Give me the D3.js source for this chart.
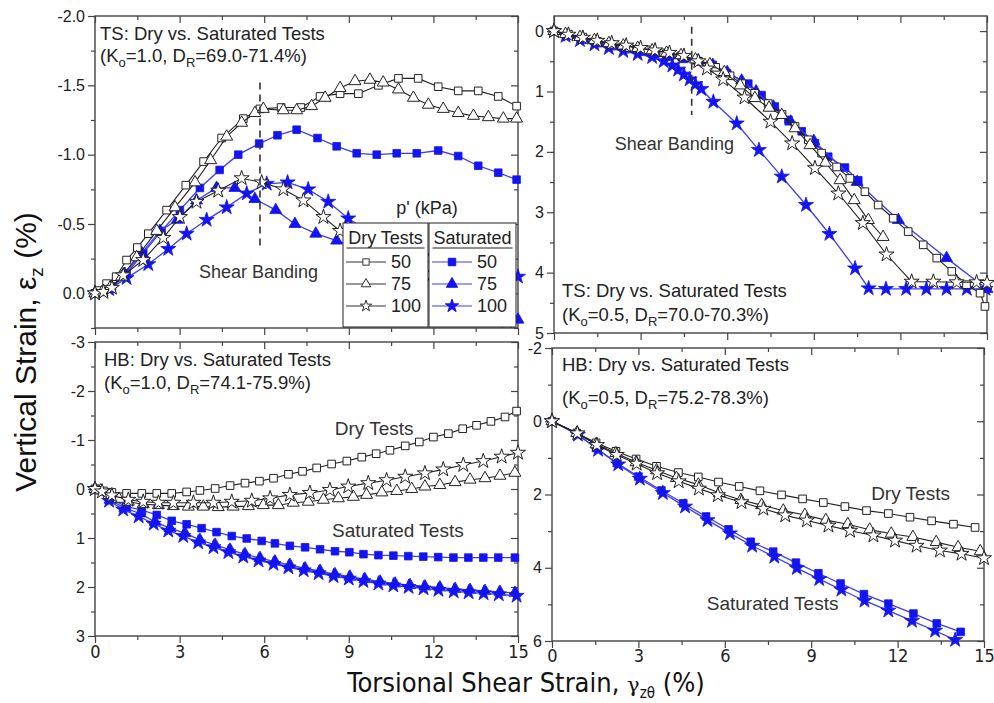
<!DOCTYPE html>
<html><head><meta charset="utf-8">
<script src="https://cdn.jsdelivr.net/npm/d3@7"></script>
<style>
body{margin:0;background:#fff}
svg{display:block;font-family:"Liberation Sans",Arial,sans-serif}
</style>
</head><body>
<svg id="c" width="994" height="703"></svg>
<script>
// ---------------- DATA (x = torsional shear strain %, y = vertical strain %) ----------------
const xMajorTicks = [0, 3, 6, 9, 12, 15];
const pressures = ["50", "75", "100"];

// TS, Ko = 1.0
const tsA_dry50 = [[0,0],[0.12,-0.02],[0.41,-0.07],[0.75,-0.12],[1.12,-0.24],[1.5,-0.33],[1.89,-0.43],[2.54,-0.60],[3.22,-0.78],[3.85,-0.95],[4.49,-1.12],[5.26,-1.26],[5.85,-1.33],[6.6,-1.34],[7.3,-1.34],[7.98,-1.42],[8.69,-1.44],[9.34,-1.44],[10.05,-1.50],[10.76,-1.55],[11.46,-1.55],[12.17,-1.49],[12.88,-1.46],[13.59,-1.46],[14.3,-1.42],[14.95,-1.35]];
const tsA_dry75 = [[0,0],[0.25,-0.01],[0.53,-0.04],[0.95,-0.12],[1.48,-0.26],[2.19,-0.45],[2.84,-0.62],[3.55,-0.80],[4.1,-0.96],[4.67,-1.13],[5.2,-1.23],[5.67,-1.30],[5.97,-1.33],[6.68,-1.32],[7.15,-1.32],[7.68,-1.35],[8.16,-1.41],[8.69,-1.48],[9.22,-1.53],[9.75,-1.54],[10.22,-1.52],[10.76,-1.47],[11.29,-1.41],[11.82,-1.36],[12.35,-1.33],[12.88,-1.30],[13.42,-1.28],[13.95,-1.27],[14.48,-1.26],[14.95,-1.26]];
const tsA_dry100 = [[0,0],[0.3,-0.01],[0.6,-0.04],[1.0,-0.13],[1.71,-0.24],[2.42,-0.40],[3.01,-0.55],[3.6,-0.66],[4.37,-0.74],[5.2,-0.83],[5.91,-0.80],[6.68,-0.75],[7.39,-0.67],[8.1,-0.55],[8.69,-0.45],[9.4,-0.36],[10.2,-0.28],[11.0,-0.21],[11.9,-0.14],[12.8,-0.06],[13.7,0.06],[14.6,0.2]];
const tsA_sat50 = [[0,0],[0.2,-0.01],[0.6,-0.05],[1.12,-0.14],[1.71,-0.29],[2.36,-0.45],[3.01,-0.60],[3.72,-0.76],[4.42,-0.89],[5.08,-1.0],[5.82,-1.08],[6.47,-1.14],[7.15,-1.18],[7.89,-1.12],[8.57,-1.06],[9.28,-1.01],[9.99,-1.0],[10.7,-1.01],[11.41,-1.01],[12.17,-1.03],[12.88,-0.99],[13.59,-0.92],[14.3,-0.87],[14.95,-0.82]];
const tsA_sat75 = [[0,0],[0.5,-0.03],[1.06,-0.14],[1.66,-0.29],[2.3,-0.45],[2.92,-0.53],[3.6,-0.67],[4.31,-0.76],[4.96,-0.76],[5.67,-0.68],[6.41,-0.60],[7.09,-0.50],[7.83,-0.43],[8.57,-0.38],[9.3,-0.33],[10.5,-0.25],[11.8,-0.12],[13.1,0.0],[14.2,0.1],[15,0.19]];
const tsA_sat100 = [[0,0],[0.5,-0.03],[1.12,-0.11],[1.89,-0.21],[2.6,-0.32],[3.25,-0.43],[3.96,-0.53],[4.67,-0.62],[5.38,-0.72],[6.09,-0.79],[6.83,-0.80],[7.56,-0.75],[8.27,-0.66],[8.98,-0.54],[9.7,-0.45],[10.8,-0.35],[12.0,-0.27],[13.2,-0.2],[14.3,-0.15],[15,-0.12]];

// TS, Ko = 0.5
const tsB_dry50 = [[0,0],[0.5,0.05],[1.0,0.1],[1.5,0.17],[2.0,0.22],[2.6,0.27],[3.2,0.31],[3.8,0.36],[4.4,0.41],[5.0,0.5],[5.6,0.6],[6.1,0.74],[6.5,0.87],[6.95,1.03],[7.42,1.2],[7.9,1.38],[8.35,1.58],[8.81,1.8],[9.27,2.02],[9.79,2.25],[10.25,2.44],[10.77,2.66],[11.23,2.88],[11.75,3.1],[12.27,3.32],[12.79,3.54],[13.26,3.76],[13.78,3.98],[14.29,4.2],[14.76,4.34],[14.93,4.56]];
const tsB_dry75 = [[0,0],[0.4,0.05],[0.9,0.1],[1.4,0.15],[1.9,0.2],[2.4,0.24],[2.9,0.28],[3.4,0.32],[3.9,0.36],[4.4,0.4],[4.9,0.47],[5.4,0.55],[5.9,0.68],[6.45,0.9],[6.96,1.11],[7.45,1.27],[7.89,1.39],[8.35,1.61],[8.87,1.89],[9.4,2.18],[9.91,2.47],[10.4,2.8],[10.89,3.13],[11.4,3.41]];
const tsB_dry100 = [[0,0],[0.5,0.06],[1.0,0.11],[1.5,0.16],[2.0,0.2],[2.5,0.24],[3.0,0.28],[3.5,0.32],[4.0,0.36],[4.5,0.41],[5.0,0.5],[5.3,0.62],[5.86,0.8],[6.6,1.1],[7.5,1.5],[8.25,1.86],[9.04,2.27],[9.85,2.69],[10.7,3.18],[11.52,3.7],[12.39,4.15],[13.14,4.15],[13.95,4.16],[14.64,4.16],[15,4.17]];
const tsB_sat50 = [[0,0],[0.5,0.07],[1.0,0.14],[1.5,0.2],[2.0,0.25],[2.5,0.3],[3.0,0.34],[3.5,0.38],[4.0,0.42],[4.5,0.46],[5.0,0.5],[5.5,0.56],[6.0,0.7],[6.73,0.87],[7.19,1.06],[7.65,1.25],[8.12,1.47],[8.58,1.66],[9.04,1.86],[9.5,2.08],[10.08,2.26],[10.54,2.47]];
const tsB_sat75 = [[0,0],[0.5,0.06],[1.0,0.12],[1.5,0.18],[2.0,0.23],[2.5,0.28],[3.0,0.32],[3.5,0.36],[4.0,0.4],[4.5,0.44],[5.0,0.49],[5.5,0.56],[6.0,0.68],[6.5,0.82],[7.0,1.0],[7.6,1.25],[8.2,1.5],[9.0,1.82],[10.5,2.5],[11.93,3.13],[13.6,3.76],[15,4.27]];
const tsB_sat100 = [[0,0],[0.4,0.08],[0.9,0.15],[1.4,0.22],[1.9,0.28],[2.4,0.33],[2.9,0.38],[3.4,0.43],[3.8,0.5],[4.1,0.57],[4.3,0.64],[4.5,0.72],[4.7,0.8],[4.9,0.88],[5.1,0.96],[5.52,1.17],[6.33,1.53],[7.1,1.97],[7.89,2.41],[8.73,2.88],[9.54,3.36],[10.43,3.93],[10.9,4.26],[11.5,4.27],[12.2,4.27],[12.9,4.27],[13.6,4.27],[14.3,4.27],[14.95,4.27]];

// HB, Ko = 1.0
const hbA_dry50 = [[0,0],[0.1,0.0],[0.3,0.04],[0.6,0.07],[1.12,0.09],[1.66,0.09],[2.19,0.09],[2.72,0.09],[3.25,0.06],[3.72,0.03],[4.26,-0.01],[4.79,-0.07],[5.32,-0.12],[5.83,-0.16],[6.33,-0.22],[6.86,-0.30],[7.36,-0.36],[7.86,-0.43],[8.39,-0.51],[8.93,-0.57],[9.46,-0.65],[9.97,-0.72],[10.46,-0.79],[11.0,-0.88],[11.5,-0.96],[12.0,-1.06],[12.53,-1.13],[13.04,-1.23],[13.53,-1.30],[14.04,-1.38],[14.54,-1.47],[14.95,-1.59]];
const hbA_dry75 = [[0,0],[0.2,0.03],[0.5,0.12],[0.85,0.2],[1.18,0.26],[1.71,0.31],[2.25,0.33],[2.78,0.35],[3.31,0.36],[3.84,0.36],[4.37,0.37],[4.9,0.36],[5.44,0.35],[5.97,0.33],[6.5,0.33],[7.03,0.28],[7.56,0.26],[8.1,0.22],[8.63,0.19],[9.16,0.16],[9.63,0.12],[10.17,0.07],[10.7,0.04],[11.23,0.0],[11.7,-0.05],[12.23,-0.08],[12.77,-0.14],[13.3,-0.19],[13.83,-0.22],[14.36,-0.27],[14.89,-0.33]];
const hbA_dry100 = [[0,0],[0.25,0.05],[0.6,0.13],[1.18,0.22],[1.71,0.26],[2.25,0.28],[2.78,0.28],[3.49,0.28],[4.2,0.28],[4.85,0.26],[5.56,0.24],[6.21,0.19],[6.91,0.12],[7.62,0.08],[8.33,0.02],[8.98,-0.05],[9.69,-0.12],[10.34,-0.18],[11.0,-0.25],[11.7,-0.32],[12.35,-0.40],[13.06,-0.49],[13.77,-0.57],[14.42,-0.66],[15.0,-0.74]];
const hbA_sat50 = [[0,0],[0.53,0.19],[1.12,0.36],[1.66,0.43],[2.19,0.53],[2.72,0.65],[3.25,0.72],[3.78,0.80],[4.31,0.88],[4.85,0.96],[5.38,1.01],[5.91,1.06],[6.38,1.11],[6.91,1.16],[7.45,1.19],[7.98,1.23],[8.51,1.27],[9.02,1.29],[9.52,1.33],[10.05,1.35],[10.58,1.36],[11.11,1.37],[11.64,1.38],[12.17,1.39],[12.71,1.40],[13.24,1.40],[13.77,1.40],[14.3,1.40],[14.89,1.40]];
const hbA_sat75 = [[0,0],[0.53,0.22],[1.06,0.39],[1.6,0.50],[2.13,0.67],[2.66,0.80],[3.19,0.90],[3.72,1.04],[4.26,1.14],[4.79,1.24],[5.32,1.33],[5.85,1.41],[6.38,1.48],[6.91,1.55],[7.45,1.62],[7.98,1.67],[8.51,1.74],[9.04,1.79],[9.57,1.84],[10.11,1.89],[10.64,1.93],[11.17,1.96],[11.7,1.99],[12.23,2.01],[12.77,2.04],[13.3,2.06],[13.83,2.08],[14.36,2.10],[14.89,2.12]];
const hbA_sat100 = [[0,0],[0.5,0.24],[1.0,0.42],[1.55,0.56],[2.08,0.71],[2.6,0.85],[3.13,0.96],[3.66,1.09],[4.2,1.19],[4.73,1.29],[5.26,1.38],[5.8,1.46],[6.33,1.53],[6.86,1.6],[7.4,1.66],[7.93,1.72],[8.46,1.78],[9.0,1.83],[9.52,1.88],[10.05,1.93],[10.58,1.97],[11.12,2.0],[11.65,2.03],[12.18,2.06],[12.72,2.09],[13.25,2.11],[13.78,2.13],[14.32,2.15],[14.95,2.18]];

// HB, Ko = 0.5
const hbB_dry50 = [[0,0],[0.86,0.32],[1.53,0.59],[2.22,0.82],[2.92,1.03],[3.63,1.23],[4.39,1.40],[5.08,1.52],[5.78,1.66],[6.5,1.78],[7.22,1.90],[7.97,2.01],[8.7,2.12],[9.42,2.22],[10.17,2.33],[10.92,2.44],[11.68,2.52],[12.43,2.62],[13.18,2.72],[13.94,2.81],[14.69,2.90]];
const hbB_dry75 = [[0,0],[0.86,0.32],[1.53,0.63],[2.22,0.87],[2.92,1.12],[3.63,1.34],[4.32,1.55],[5.08,1.73],[5.81,1.96],[6.56,2.15],[7.28,2.29],[8.03,2.44],[8.78,2.56],[9.51,2.70],[10.27,2.81],[11.03,2.96],[11.78,3.07],[12.53,3.16],[13.34,3.30],[14.1,3.44],[14.87,3.55]];
const hbB_dry100 = [[0,0],[0.88,0.33],[1.56,0.65],[2.25,0.92],[2.94,1.16],[3.65,1.42],[4.4,1.64],[5.1,1.84],[5.76,2.02],[6.58,2.21],[7.34,2.39],[8.1,2.57],[8.85,2.71],[9.6,2.85],[10.35,2.99],[11.16,3.12],[11.91,3.26],[12.66,3.40],[13.47,3.53],[14.22,3.62],[15.0,3.74]];
const hbB_sat50 = [[0,0],[0.86,0.34],[1.53,0.73],[2.25,1.14],[3.0,1.51],[3.8,1.89],[4.56,2.24],[5.35,2.60],[6.13,2.95],[6.9,3.29],[7.68,3.56],[8.47,3.86],[9.25,4.15],[10.02,4.43],[10.83,4.72],[11.68,4.98],[12.55,5.25],[13.36,5.52],[14.19,5.75]];
const hbB_sat100 = [[0,0],[0.9,0.37],[1.6,0.78],[2.3,1.18],[3.05,1.57],[3.85,1.96],[4.62,2.33],[5.4,2.7],[6.18,3.06],[6.95,3.4],[7.72,3.7],[8.5,4.01],[9.28,4.31],[10.05,4.6],[10.85,4.9],[11.68,5.17],[12.5,5.45],[13.3,5.72],[14.0,5.97]];

// axis ticks per panel
const tsA_yTicks = [-2.0, -1.5, -1.0, -0.5, 0.0];
const tsB_yTicks = [0, 1, 2, 3, 4, 5];
const hbA_yTicks = [-3, -2, -1, 0, 1, 2, 3];
const hbB_yTicks = [-2, 0, 2, 4, 6];

// ---------------- DRAWING ----------------
const svg = d3.select("#c");
const BLUE = "#1414f0", BLUE_LINE = "#3c3cf5", BLACK = "#222";
const FONT_NARROW = "'Liberation Sans Narrow','Arial Narrow','DejaVu Sans Condensed',sans-serif";
const symType = {sq: d3.symbolSquare, tri: d3.symbolTriangle, star: d3.symbolStar};
const symSize = {sq: 58, tri: 62, star: 70};

function ser(data, sym, sat) { return {data, sym, sat}; }

const panels = [
  {left:95, right:518, top:16, bottom:328, yDomain:[-2, 0.25], yTicks:tsA_yTicks, yMinorStep:0.25,
   fmt:d=>d.toFixed(1), showX:false, xPad:2,
   series:[ser(tsA_sat50,"sq",true),ser(tsA_sat75,"tri",true),ser(tsA_sat100,"star",true),
           ser(tsA_dry50,"sq",false),ser(tsA_dry75,"tri",false),ser(tsA_dry100,"star",false)],
   title:["TS: Dry vs. Saturated Tests","1.0","69.0-71.4%"], tdx:5, t1:24, t2:46,
   band:{x:5.85, y0:-1.52, y1:-0.33}, bandText:{x:5.8, y:-0.11},
   notes:[]},
  {left:554, right:987, top:16, bottom:333, yDomain:[-0.25, 5], yTicks:tsB_yTicks, yMinorStep:0.5,
   fmt:d=>String(d), showX:false, xPad:2,
   series:[ser(tsB_sat50,"sq",true),ser(tsB_sat75,"tri",true),ser(tsB_sat100,"star",true),
           ser(tsB_dry50,"sq",false),ser(tsB_dry75,"tri",false),ser(tsB_dry100,"star",false)],
   title:["TS: Dry vs. Saturated Tests","0.5","70.0-70.3%"], tdx:8, t1:281, t2:305,
   band:{x:4.77, y0:-0.07, y1:1.39}, bandText:{x:4.17, y:1.97},
   notes:[]},
  {left:95, right:518, top:342, bottom:636, yDomain:[-3, 3], yTicks:hbA_yTicks, yMinorStep:0.5,
   fmt:d=>String(d), showX:true, xPad:2,
   series:[ser(hbA_sat50,"sq",true),ser(hbA_sat75,"tri",true),ser(hbA_sat100,"star",true),
           ser(hbA_dry50,"sq",false),ser(hbA_dry75,"tri",false),ser(hbA_dry100,"star",false)],
   title:["HB: Dry vs. Saturated Tests","1.0","74.1-75.9%"], tdx:9, t1:24, t2:47,
   notes:[{t:"Dry Tests", x:9.9, y:-1.1},{t:"Saturated Tests", x:10.74, y:0.98}]},
  {left:552, right:984, top:348, bottom:641, yDomain:[-2, 6], yTicks:hbB_yTicks, yMinorStep:1,
   fmt:d=>String(d), showX:true, xPad:1,
   series:[ser(hbB_sat50,"sq",true),ser(hbB_sat100,"star",true),
           ser(hbB_dry50,"sq",false),ser(hbB_dry75,"tri",false),ser(hbB_dry100,"star",false)],
   title:["HB: Dry vs. Saturated Tests","0.5","75.2-78.3%"], tdx:10, t1:23, t2:56,
   notes:[{t:"Dry Tests", x:12.45, y:2.15},{t:"Saturated Tests", x:7.66, y:5.16}]}
];

function styleAxis(g, showLabels, narrow) {
  g.select(".domain").remove();
  g.selectAll(".tick line").attr("stroke", "#444").attr("stroke-width", 1.2);
  g.selectAll(".tick text").attr("fill", "#222")
    .style("font-family", narrow ? FONT_NARROW : "'Liberation Sans',Arial,sans-serif")
    .style("font-size", narrow ? "18px" : "16px");
  if (!showLabels) g.selectAll(".tick text").remove();
}

function minorVals(domain, step, majors) {
  const lo = Math.min(...domain), hi = Math.max(...domain);
  const out = [];
  for (let v = Math.ceil(lo / step - 1e-9) * step; v <= hi + 1e-9; v += step) {
    const r = +v.toFixed(4);
    if (!majors.some(m => Math.abs(m - r) < 1e-6)) out.push(r);
  }
  return out;
}

panels.forEach(p => {
  const x = d3.scaleLinear().domain([0, 15]).range([p.left, p.right]);
  const y = d3.scaleLinear().domain(p.yDomain).range([p.top, p.bottom]);
  const g = svg.append("g");
  const xMinor = minorVals([0, 15], 1.5, xMajorTicks);
  const yMinor = minorVals(p.yDomain, p.yMinorStep, p.yTicks);

  // frame
  g.append("rect").attr("x", p.left).attr("y", p.top)
    .attr("width", p.right - p.left).attr("height", p.bottom - p.top)
    .attr("fill", "none").attr("stroke", "#444").attr("stroke-width", 1.4);

  // bottom axis (outward)
  g.append("g").attr("transform", `translate(0,${p.bottom})`)
    .call(d3.axisBottom(x).tickValues(xMajorTicks).tickSize(7).tickPadding(p.xPad).tickFormat(d3.format("d")))
    .call(a => styleAxis(a, p.showX, true));
  g.append("g").attr("transform", `translate(0,${p.bottom})`)
    .call(d3.axisBottom(x).tickValues(xMinor).tickSize(4).tickFormat(""))
    .call(a => styleAxis(a, false));
  // top axis (inward)
  g.append("g").attr("transform", `translate(0,${p.top})`)
    .call(d3.axisTop(x).tickValues(xMajorTicks).tickSizeInner(-7).tickSizeOuter(0).tickFormat(""))
    .call(a => styleAxis(a, false));
  g.append("g").attr("transform", `translate(0,${p.top})`)
    .call(d3.axisTop(x).tickValues(xMinor).tickSizeInner(-4).tickSizeOuter(0).tickFormat(""))
    .call(a => styleAxis(a, false));
  // left axis (outward)
  g.append("g").attr("transform", `translate(${p.left},0)`)
    .call(d3.axisLeft(y).tickValues(p.yTicks).tickSize(7).tickPadding(3).tickFormat(p.fmt))
    .call(a => styleAxis(a, true, false));
  g.append("g").attr("transform", `translate(${p.left},0)`)
    .call(d3.axisLeft(y).tickValues(yMinor).tickSize(4).tickFormat(""))
    .call(a => styleAxis(a, false));
  // right axis (inward)
  g.append("g").attr("transform", `translate(${p.right},0)`)
    .call(d3.axisRight(y).tickValues(p.yTicks).tickSizeInner(-7).tickSizeOuter(0).tickFormat(""))
    .call(a => styleAxis(a, false));
  g.append("g").attr("transform", `translate(${p.right},0)`)
    .call(d3.axisRight(y).tickValues(yMinor).tickSizeInner(-4).tickSizeOuter(0).tickFormat(""))
    .call(a => styleAxis(a, false));

  // series
  const line = d3.line().x(d => x(d[0])).y(d => y(d[1]));
  p.series.forEach(s => {
    g.append("path").datum(s.data).attr("d", line).attr("fill", "none")
      .attr("stroke", s.sat ? BLUE_LINE : BLACK).attr("stroke-width", s.sat ? 1.3 : 1.1);
    const sym = d3.symbol().type(symType[s.sym]).size(symSize[s.sym]);
    g.selectAll(null).data(s.data).join("path")
      .attr("transform", d => `translate(${x(d[0])},${y(d[1])})`)
      .attr("d", sym)
      .attr("fill", s.sat ? BLUE : "#fff")
      .attr("stroke", s.sat ? BLUE : BLACK)
      .attr("stroke-width", s.sat ? 0.8 : 1);
  });

  // shear band
  if (p.band) {
    g.append("line").attr("x1", x(p.band.x)).attr("x2", x(p.band.x))
      .attr("y1", y(p.band.y0)).attr("y2", y(p.band.y1))
      .attr("stroke", "#333").attr("stroke-width", 1.6).attr("stroke-dasharray", "7,5");
    g.append("text").attr("x", x(p.bandText.x)).attr("y", y(p.bandText.y))
      .attr("text-anchor", "middle").style("font-size", "18px").attr("fill", "#333")
      .text("Shear Banding");
  }

  // panel title
  const t = g.append("g").attr("fill", "#222").style("font-size", "18.5px");
  t.append("text").attr("x", p.left + p.tdx).attr("y", p.top + p.t1).text(p.title[0]);
  const t2 = t.append("text").attr("x", p.left + p.tdx).attr("y", p.top + p.t2);
  t2.append("tspan").text("(K");
  t2.append("tspan").attr("dy", 5).style("font-size", "13px").text("o");
  t2.append("tspan").attr("dy", -5).text("=" + p.title[1] + ", D");
  t2.append("tspan").attr("dy", 5).style("font-size", "13px").text("R");
  t2.append("tspan").attr("dy", -5).text("=" + p.title[2] + ")");

  p.notes.forEach(n => {
    g.append("text").attr("x", x(n.x)).attr("y", y(n.y)).attr("text-anchor", "middle")
      .style("font-size", "19px").attr("fill", "#333").text(n.t);
  });
});

// ---------------- LEGEND (top-left panel) ----------------
(function legend() {
  const p = panels[0];
  const g = svg.append("g");
  g.append("text").attr("x", 427).attr("y", 214).attr("text-anchor", "middle")
    .style("font-size", "18px").attr("fill", "#222").text("p' (kPa)");
  const boxes = [
    {x0:343, x1:428, head:"Dry Tests", sat:false},
    {x0:429, x1:516, head:"Saturated", sat:true}
  ];
  const syms = ["sq", "tri", "star"];
  boxes.forEach(b => {
    g.append("rect").attr("x", b.x0).attr("y", 223).attr("width", b.x1 - b.x0).attr("height", p.bottom - 1 - 223)
      .attr("fill", "#fff").attr("stroke", "#222").attr("stroke-width", 1);
    g.append("text").attr("x", (b.x0 + b.x1) / 2).attr("y", 244).attr("text-anchor", "middle")
      .style("font-size", "18px").attr("fill", "#222").text(b.head);
    const w = b.sat ? 80 : 78;
    g.append("line").attr("x1", (b.x0 + b.x1) / 2 - w / 2).attr("x2", (b.x0 + b.x1) / 2 + w / 2)
      .attr("y1", 248).attr("y2", 248).attr("stroke", "#222").attr("stroke-width", 1.2);
    pressures.forEach((pr, i) => {
      const yy = 262 + i * 22;
      const lx0 = b.x0 + 3, lx1 = b.x0 + 43, mx = b.x0 + 23;
      g.append("line").attr("x1", lx0).attr("x2", lx1).attr("y1", yy).attr("y2", yy)
        .attr("stroke", b.sat ? BLUE_LINE : "#333").attr("stroke-width", 1.2);
      g.append("path").attr("transform", `translate(${mx},${yy})`)
        .attr("d", d3.symbol().type(symType[syms[i]]).size(b.sat ? 55 : 40))
        .attr("fill", b.sat ? BLUE : "#fff").attr("stroke", b.sat ? BLUE : "#333").attr("stroke-width", 1);
      g.append("text").attr("x", b.x0 + 48).attr("y", yy + 6)
        .style("font-size", "18px").attr("fill", "#222").text(pr);
    });
  });
})();

// ---------------- AXIS TITLES ----------------
const xt = svg.append("text").attr("x", 526).attr("y", 692).attr("text-anchor", "middle")
  .style("font-family", FONT_NARROW).style("font-size", "27px").attr("fill", "#111");
xt.append("tspan").text("Torsional Shear Strain, ");
xt.append("tspan").style("font-family", "'DejaVu Serif',serif").style("font-size","21px").text("γ");
xt.append("tspan").attr("dy", 6).style("font-size", "15px").text("zθ");
xt.append("tspan").attr("dy", -6).text(" (%)");

const yt = svg.append("text").attr("transform", "translate(36,352) rotate(-90)").attr("text-anchor", "middle")
  .style("font-size", "30px").attr("fill", "#111");
yt.append("tspan").text("Vertical Strain, ε");
yt.append("tspan").attr("dy", 7).style("font-size", "19px").text("z");
yt.append("tspan").attr("dy", -7).text(" (%)");
</script>
</body></html>
